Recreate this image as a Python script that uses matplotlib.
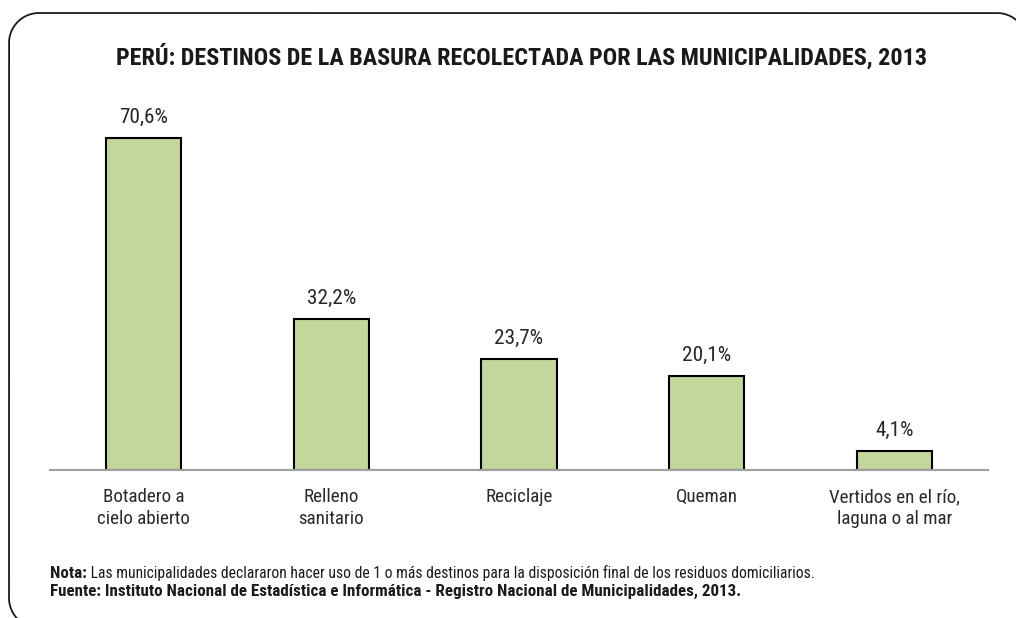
import matplotlib
matplotlib.use("Agg")
import numpy as np
import matplotlib.pyplot as plt
from matplotlib import font_manager as fm
from matplotlib.lines import Line2D

weights = {}
for f in fm.fontManager.ttflist:
    w = f.weight if isinstance(f.weight, int) else 400
    weights.setdefault(f.name, set()).add(w)
candidates = ['Liberation Sans Narrow', 'Arial Narrow', 'Roboto Condensed', 'PT Sans Narrow',
              'Archivo Narrow', 'Open Sans Condensed', 'Fira Sans Condensed',
              'IBM Plex Sans Condensed', 'Encode Sans Condensed', 'Asap Condensed']
font = next((c for c in candidates if c in weights and any(w >= 600 for w in weights[c])
             and any(w <= 500 for w in weights[c])), 'Liberation Sans')
plt.rcParams['font.family'] = [font, 'DejaVu Sans']

categories = ["Botadero a\ncielo abierto", "Relleno\nsanitario", "Reciclaje", "Queman",
              "Vertidos en el río,\nlaguna o al mar"]
values = [70.6, 32.2, 23.7, 20.1, 4.1]
value_labels = ["70,6%", "32,2%", "23,7%", "20,1%", "4,1%"]
title = "PERÚ: DESTINOS DE LA BASURA RECOLECTADA POR LAS MUNICIPALIDADES, 2013"
nota_head = "Nota:"
nota_text = " Las municipalidades declararon hacer uso de 1 o más destinos para la disposición final de los residuos domiciliarios."
fuente_text = "Fuente: Instituto Nacional de Estadística e Informática - Registro Nacional de Municipalidades, 2013."

W, H = 1016, 618
fig = plt.figure(figsize=(W / 100, H / 100), dpi=100)


def fit_size(text, target_px, weight="normal", base=12.0):
    t = fig.text(0, 0, text, fontsize=base, fontweight=weight)
    fig.canvas.draw()
    w = t.get_window_extent().width
    t.remove()
    return base * target_px / w


title_fs = fit_size(title, 808, "bold")
label_fs = fit_size("cielo abierto", 93)
value_fs = fit_size("70,6%", 49)
note_fs = fit_size(fuente_text, 692, "bold")

# rounded frame (image pixel coords, y down)
L, T, R, B, r = 9, 13, 1027, 628, 30


def arc(cx, cy, a0, a1):
    tt = np.linspace(a0, a1, 40)
    return list(zip(cx + r * np.cos(tt), cy + r * np.sin(tt)))


pts = []
pts += arc(L + r, B - r, np.pi / 2, np.pi)
pts += arc(L + r, T + r, np.pi, 1.5 * np.pi)
pts += arc(R - r, T + r, 1.5 * np.pi, 2 * np.pi)
pts += arc(R - r, B - r, 0, np.pi / 2)
pts.append(pts[0])
px = np.array([p[0] for p in pts]) / W
py = 1 - np.array([p[1] for p in pts]) / H
fig.add_artist(Line2D(px, py, transform=fig.transFigure, color="#1a1a1a", linewidth=1.3))

ax = fig.add_axes([50 / W, 1 - 470 / H, 938 / W, 376 / H])
x = list(range(len(categories)))
ax.bar(x, values, width=0.4, color="#c3d69b", edgecolor="black", linewidth=1.5, zorder=2)
for xi, v, lab in zip(x, values, value_labels):
    ax.annotate(lab, (xi, v), xytext=(0, 8), textcoords="offset points",
                ha="center", va="bottom", fontsize=value_fs, color="#262626")
ax.set_xlim(-0.5, len(categories) - 0.5)
ax.set_ylim(0, 80)
ax.set_xticks(x)
ax.set_xticklabels(categories, fontsize=label_fs, color="#2a2a2a", linespacing=1.3)
ax.tick_params(axis="x", length=0, pad=13)
ax.set_yticks([])
for s in ["top", "left", "right"]:
    ax.spines[s].set_visible(False)
ax.spines["bottom"].set_color("#a0a0a0")
ax.spines["bottom"].set_linewidth(1.5)
ax.patch.set_visible(False)

fig.text(521 / W, 1 - 57 / H, title, ha="center", va="center", fontsize=title_fs,
         fontweight="bold", color="#1a1a1a")

t1 = fig.text(50 / W, 1 - 573 / H, nota_head, ha="left", va="center", fontsize=note_fs,
              fontweight="bold", color="#1a1a1a")
fig.canvas.draw()
bb = t1.get_window_extent()
rest_fs = max(min(note_fs, fit_size(nota_text, 739 - bb.x1)), 0.92 * note_fs)
fig.text(bb.x1 / W, 1 - 573 / H, nota_text, ha="left", va="center", fontsize=rest_fs,
         color="#1a1a1a")
fig.text(50 / W, 1 - 591 / H, fuente_text, ha="left", va="center", fontsize=note_fs,
         fontweight="bold", color="#1a1a1a")

fig.savefig("out.png", dpi=100)
